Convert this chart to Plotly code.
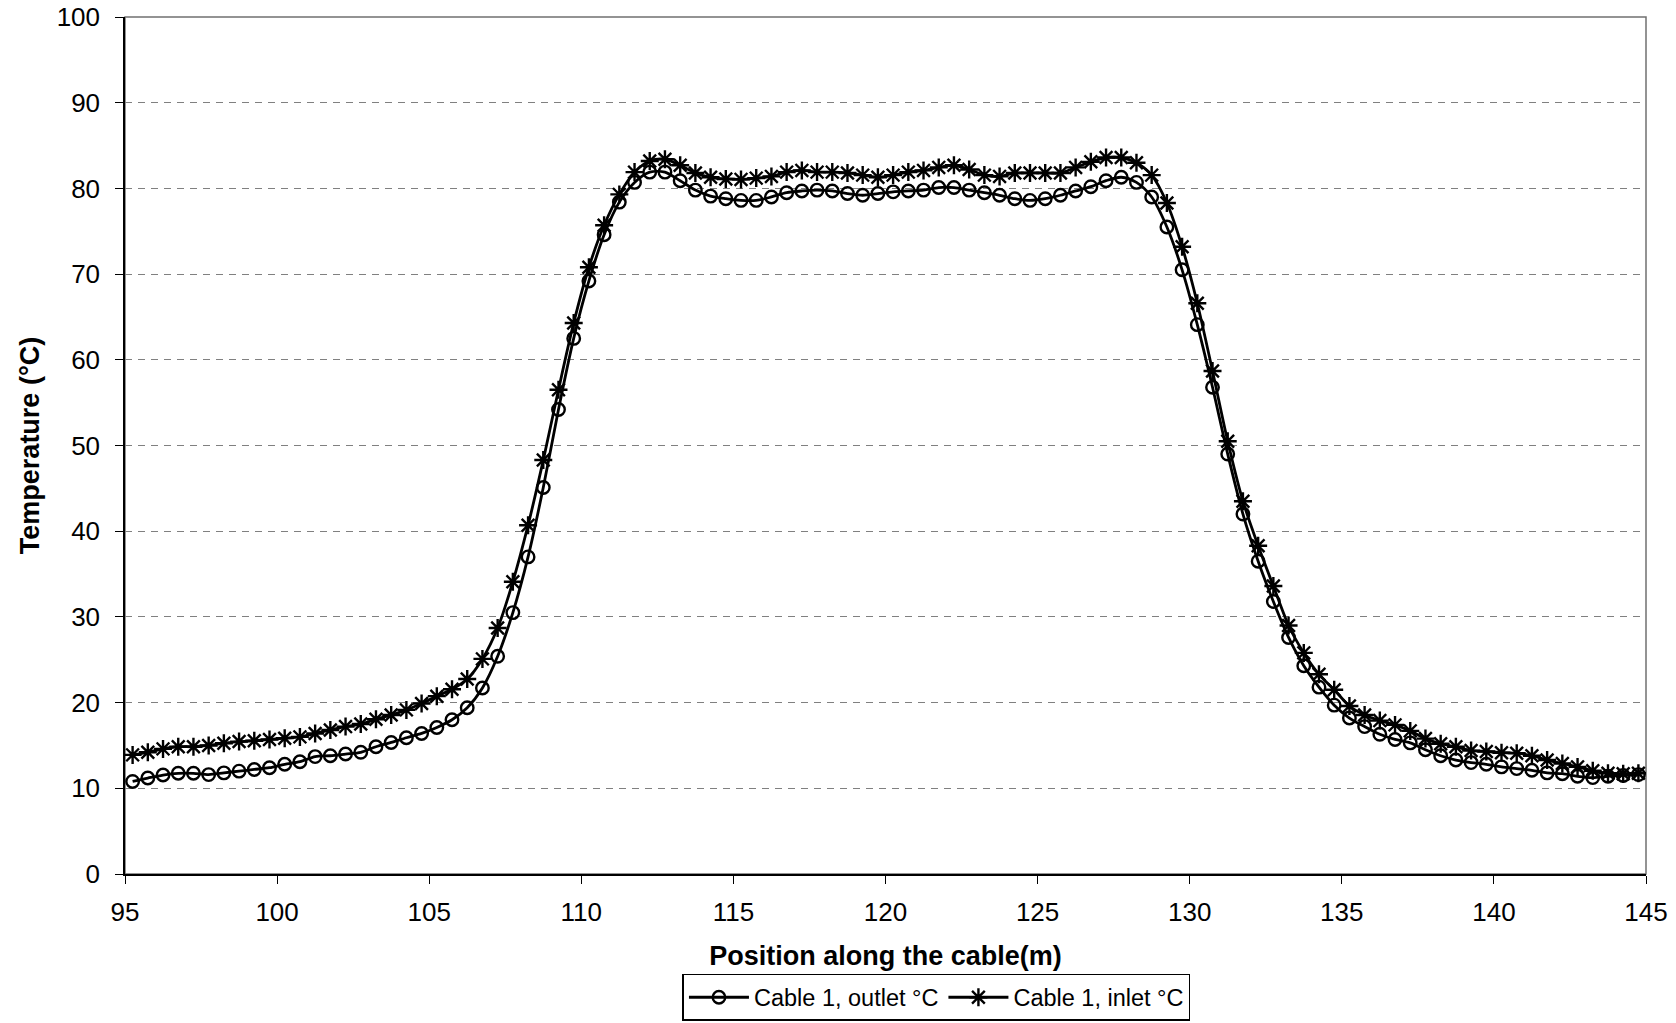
import plotly.graph_objects as go

# Sampling positions along the cable (m)
position_m = [
    95.25, 95.75, 96.25, 96.75, 97.25, 97.75, 98.25, 98.75, 99.25, 99.75,
    100.25, 100.75, 101.25, 101.75, 102.25, 102.75, 103.25, 103.75, 104.25, 104.75,
    105.25, 105.75, 106.25, 106.75, 107.25, 107.75, 108.25, 108.75, 109.25, 109.75,
    110.25, 110.75, 111.25, 111.75, 112.25, 112.75, 113.25, 113.75, 114.25, 114.75,
    115.25, 115.75, 116.25, 116.75, 117.25, 117.75, 118.25, 118.75, 119.25, 119.75,
    120.25, 120.75, 121.25, 121.75, 122.25, 122.75, 123.25, 123.75, 124.25, 124.75,
    125.25, 125.75, 126.25, 126.75, 127.25, 127.75, 128.25, 128.75, 129.25, 129.75,
    130.25, 130.75, 131.25, 131.75, 132.25, 132.75, 133.25, 133.75, 134.25, 134.75,
    135.25, 135.75, 136.25, 136.75, 137.25, 137.75, 138.25, 138.75, 139.25, 139.75,
    140.25, 140.75, 141.25, 141.75, 142.25, 142.75, 143.25, 143.75, 144.25, 144.75,
]

outlet_c = [
    10.8, 11.2, 11.55, 11.75, 11.75, 11.6, 11.8, 12.0, 12.2, 12.4,
    12.8, 13.1, 13.7, 13.8, 14.0, 14.2, 14.85, 15.35, 15.9, 16.4,
    17.1, 18.0, 19.4, 21.7, 25.4, 30.5, 37.0, 45.1, 54.2, 62.5,
    69.2, 74.6, 78.4, 80.7, 81.9, 81.9, 80.9, 79.8, 79.1, 78.8,
    78.6, 78.6, 79.0, 79.5, 79.7, 79.8, 79.7, 79.4, 79.2, 79.4,
    79.6, 79.7, 79.8, 80.1, 80.1, 79.8, 79.5, 79.2, 78.8, 78.6,
    78.8, 79.2, 79.7, 80.2, 80.9, 81.3, 80.7, 79.0, 75.5, 70.5,
    64.1, 56.8, 49.0, 42.0, 36.5, 31.8, 27.6, 24.3, 21.8, 19.7,
    18.2, 17.2, 16.3, 15.7, 15.3, 14.5, 13.8, 13.3, 13.0, 12.8,
    12.5, 12.3, 12.1, 11.8, 11.7, 11.4, 11.25, 11.4, 11.5, 11.6,
]

inlet_c = [
    13.9, 14.2, 14.6, 14.85, 14.85, 15.0, 15.25, 15.45, 15.55, 15.7,
    15.85, 16.0, 16.4, 16.8, 17.2, 17.5, 18.05, 18.55, 19.15, 19.9,
    20.75, 21.55, 22.75, 25.1, 28.7, 34.1, 40.7, 48.3, 56.5, 64.3,
    70.8, 75.7, 79.3, 81.9, 83.2, 83.4, 82.7, 81.8, 81.3, 81.1,
    81.05, 81.2, 81.4, 81.9, 82.1, 81.9, 81.9, 81.8, 81.55, 81.3,
    81.55, 81.9, 82.1, 82.45, 82.7, 82.2, 81.55, 81.4, 81.8, 81.8,
    81.8, 81.8, 82.45, 83.1, 83.6, 83.6, 83.0, 81.55, 78.3, 73.2,
    66.6, 58.7, 50.5, 43.5, 38.3, 33.6, 29.0, 25.8, 23.3, 21.5,
    19.6, 18.55, 17.9, 17.4, 16.7, 15.8, 15.2, 14.85, 14.4, 14.3,
    14.15, 14.1, 13.8, 13.3, 12.9, 12.5, 12.05, 11.75, 11.7, 11.75,
]

x_ticks = [95, 100, 105, 110, 115, 120, 125, 130, 135, 140, 145]
y_ticks = [0, 10, 20, 30, 40, 50, 60, 70, 80, 90, 100]

FONT = "Arial, 'Liberation Sans', sans-serif"

fig = go.Figure()
fig.add_trace(go.Scatter(
    x=position_m, y=outlet_c, name="Cable 1, outlet °C",
    mode="lines+markers",
    line=dict(color="black", width=2.8, shape="spline", smoothing=0.8),
    marker=dict(symbol="circle-open", size=12.5, color="black",
                line=dict(color="black", width=2.4)),
))
fig.add_trace(go.Scatter(
    x=position_m, y=inlet_c, name="Cable 1, inlet °C",
    mode="lines+markers",
    line=dict(color="black", width=2.8, shape="spline", smoothing=0.8),
    marker=dict(symbol="asterisk-open", size=15, color="black",
                line=dict(color="black", width=2.4)),
))

# plot area border (gray); left and bottom axis lines drawn in black
fig.add_shape(type="rect", xref="paper", yref="paper", x0=0, y0=0, x1=1, y1=1,
              line=dict(color="#707070", width=1.5), layer="below")

fig.update_layout(
    width=1676, height=1023,
    margin=dict(l=125, r=30, t=17, b=149, autoexpand=False),
    paper_bgcolor="white", plot_bgcolor="white",
    font=dict(family=FONT, color="black", size=24),
    showlegend=True,
    legend=dict(
        orientation="h", x=0.5335, xanchor="center", y=-0.1715, yanchor="bottom",
        bordercolor="black", borderwidth=1.5, bgcolor="white",
        font=dict(family=FONT, size=23.5, color="black"),
        itemwidth=60, tracegroupgap=0,
    ),
)
fig.update_xaxes(
    range=[95, 145], tickvals=x_ticks, ticktext=[str(v) for v in x_ticks],
    showgrid=False, zeroline=False, automargin=False, ticklabeloverflow="allow",
    showline=True, linecolor="black", linewidth=1.5,
    ticks="outside", ticklen=8, tickcolor="black", tickwidth=1,
    tickfont=dict(family=FONT, size=26), ticklabelstandoff=6,
    title=dict(text="<b>Position along the cable(m)</b>",
               font=dict(family=FONT, size=27), standoff=20),
)
fig.update_yaxes(
    range=[0, 100], tickvals=y_ticks, ticktext=[str(v) for v in y_ticks],
    showgrid=True, gridcolor="#808080", gridwidth=1, griddash="7px,6px",
    zeroline=False, automargin=False, ticklabeloverflow="allow",
    showline=True, linecolor="black", linewidth=1.5,
    ticks="outside", ticklen=8, tickcolor="black", tickwidth=1,
    tickfont=dict(family=FONT, size=26), ticklabelstandoff=10,
    title=dict(text="<b>Temperature (°C)</b>",
               font=dict(family=FONT, size=27), standoff=9),
)

fig.write_html(
    "out.html",
    config={"displayModeBar": False},
    post_script="document.body.style.margin='0px';document.body.style.overflow='hidden';",
)
